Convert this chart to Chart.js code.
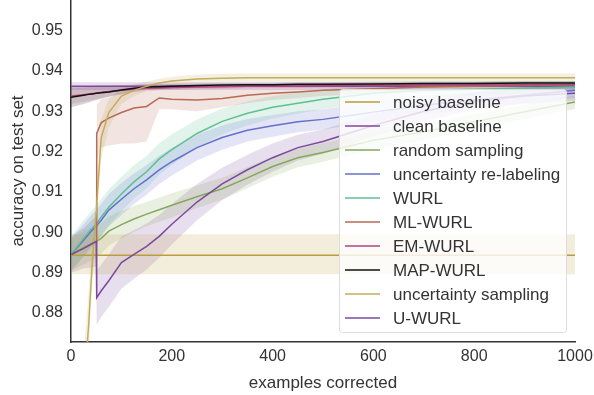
<!DOCTYPE html>
<html>
<head>
<meta charset="utf-8">
<script src="https://cdn.jsdelivr.net/npm/chart.js@4.4.1/dist/chart.umd.min.js"></script>
<style>
  body { margin: 0; background: #fff; }
</style>
</head>
<body>
<canvas id="chart" width="594" height="395"></canvas>
<script>
// x positions (examples corrected)
const xValues = [0, 25, 35, 42, 50, 51, 60, 75, 100, 125, 150, 175, 200, 250, 300, 350, 400, 450, 500, 600, 700, 800, 900, 1000];
const xTicks = [0, 200, 400, 600, 800, 1000];
const yTicks = [0.88, 0.89, 0.90, 0.91, 0.92, 0.93, 0.94, 0.95];

const labels = ['noisy baseline', 'clean baseline', 'random sampling', 'uncertainty re-labeling', 'WURL',
                'ML-WURL', 'EM-WURL', 'MAP-WURL', 'uncertainty sampling', 'U-WURL'];
const colors = ['#bb9d3e', '#84479f', '#86a85a', '#6470cc', '#5fbf94',
                '#b86a52', '#b0477a', '#111111', '#c2ad58', '#7b4a9e'];

const noisyBaseline = [0.8943, 0.8943, 0.8943, 0.8943, 0.8943, 0.8943, 0.8943, 0.8943, 0.8943, 0.8943, 0.8943, 0.8943, 0.8943, 0.8943, 0.8943, 0.8943, 0.8943, 0.8943, 0.8943, 0.8943, 0.8943, 0.8943, 0.8943, 0.8943];
const noisyLow      = [0.8896, 0.8896, 0.8896, 0.8896, 0.8896, 0.8896, 0.8896, 0.8896, 0.8896, 0.8896, 0.8896, 0.8896, 0.8896, 0.8896, 0.8896, 0.8896, 0.8896, 0.8896, 0.8896, 0.8896, 0.8896, 0.8896, 0.8896, 0.8896];
const noisyHigh     = [0.8995, 0.8995, 0.8995, 0.8995, 0.8995, 0.8995, 0.8995, 0.8995, 0.8995, 0.8995, 0.8995, 0.8995, 0.8995, 0.8995, 0.8995, 0.8995, 0.8995, 0.8995, 0.8995, 0.8995, 0.8995, 0.8995, 0.8995, 0.8995];

const cleanBaseline = [0.9362, 0.9362, 0.9362, 0.9362, 0.9362, 0.9362, 0.9362, 0.9362, 0.9362, 0.9362, 0.9362, 0.9362, 0.9362, 0.9362, 0.9362, 0.9362, 0.9362, 0.9362, 0.9362, 0.9362, 0.9362, 0.9362, 0.9362, 0.9362];
const cleanLow      = [0.9353, 0.9353, 0.9353, 0.9353, 0.9353, 0.9353, 0.9353, 0.9353, 0.9353, 0.9353, 0.9353, 0.9353, 0.9353, 0.9353, 0.9353, 0.9353, 0.9353, 0.9353, 0.9353, 0.9353, 0.9353, 0.9353, 0.9353, 0.9353];
const cleanHigh     = [0.9372, 0.9372, 0.9372, 0.9372, 0.9372, 0.9372, 0.9372, 0.9372, 0.9372, 0.9372, 0.9372, 0.9372, 0.9372, 0.9372, 0.9372, 0.9372, 0.9372, 0.9372, 0.9372, 0.9372, 0.9372, 0.9372, 0.9372, 0.9372];

const randomSampling = [0.8945, 0.8962, 0.8968, 0.8973, 0.8977, 0.8978, 0.8985, 0.9003, 0.9019, 0.9033, 0.9045, 0.9056, 0.9067, 0.9088, 0.9108, 0.9135, 0.9163, 0.9185, 0.9198, 0.9228, 0.9249, 0.9274, 0.9299, 0.9323];
const randomLow      = [0.8905, 0.8920, 0.8927, 0.8932, 0.8937, 0.8938, 0.8947, 0.8967, 0.8985, 0.9001, 0.9015, 0.9026, 0.9037, 0.9060, 0.9081, 0.9109, 0.9138, 0.9161, 0.9175, 0.9206, 0.9229, 0.9255, 0.9281, 0.9306];
const randomHigh     = [0.8985, 0.9004, 0.9009, 0.9014, 0.9017, 0.9018, 0.9023, 0.9039, 0.9053, 0.9065, 0.9075, 0.9086, 0.9097, 0.9116, 0.9135, 0.9161, 0.9188, 0.9209, 0.9221, 0.9250, 0.9269, 0.9293, 0.9317, 0.9340];

const relabel     = [0.8945, 0.8980, 0.8995, 0.9005, 0.9015, 0.9017, 0.9030, 0.9055, 0.9082, 0.9108, 0.9130, 0.9155, 0.9175, 0.9210, 0.9235, 0.9253, 0.9264, 0.9274, 0.9280, 0.9298, 0.9315, 0.9328, 0.9340, 0.9352];
const relabelLow  = [0.8905, 0.8940, 0.8955, 0.8965, 0.8975, 0.8977, 0.8990, 0.9015, 0.9042, 0.9070, 0.9093, 0.9120, 0.9141, 0.9178, 0.9205, 0.9225, 0.9237, 0.9248, 0.9255, 0.9275, 0.9293, 0.9307, 0.9320, 0.9333];
const relabelHigh = [0.8985, 0.9020, 0.9035, 0.9045, 0.9055, 0.9057, 0.9070, 0.9095, 0.9122, 0.9146, 0.9167, 0.9190, 0.9209, 0.9242, 0.9265, 0.9281, 0.9291, 0.9300, 0.9305, 0.9321, 0.9337, 0.9349, 0.9360, 0.9371];

const wurl     = [0.8945, 0.8985, 0.9000, 0.9010, 0.9020, 0.9022, 0.9038, 0.9062, 0.9095, 0.9125, 0.9150, 0.9182, 0.9205, 0.9245, 0.9275, 0.9295, 0.9310, 0.9320, 0.9330, 0.9345, 0.9352, 0.9355, 0.9358, 0.9360];
const wurlLow  = [0.8900, 0.8940, 0.8955, 0.8965, 0.8975, 0.8977, 0.8993, 0.9017, 0.9052, 0.9084, 0.9110, 0.9143, 0.9167, 0.9210, 0.9243, 0.9265, 0.9282, 0.9294, 0.9306, 0.9323, 0.9333, 0.9338, 0.9342, 0.9345];
const wurlHigh = [0.8990, 0.9030, 0.9045, 0.9055, 0.9065, 0.9067, 0.9083, 0.9107, 0.9138, 0.9166, 0.9190, 0.9221, 0.9243, 0.9280, 0.9307, 0.9325, 0.9338, 0.9346, 0.9354, 0.9367, 0.9371, 0.9372, 0.9374, 0.9375];

const mlWurl     = [0.8945, 0.8960, 0.8967, 0.8972, 0.8977, 0.9245, 0.9272, 0.9283, 0.9297, 0.9308, 0.9312, 0.9333, 0.9330, 0.9328, 0.9332, 0.9340, 0.9345, 0.9348, 0.9352, 0.9356, 0.9360, 0.9362, 0.9364, 0.9365];
const mlLow      = [null, null, null, null, null, 0.9180, 0.9210, 0.9215, 0.9220, 0.9220, 0.9225, 0.9305, 0.9305, 0.9300, 0.9310, 0.9320, 0.9328, 0.9333, 0.9338, 0.9344, 0.9349, 0.9352, 0.9354, 0.9356];
const mlHigh     = [null, null, null, null, null, 0.9315, 0.9330, 0.9335, 0.9345, 0.9350, 0.9350, 0.9358, 0.9358, 0.9358, 0.9360, 0.9362, 0.9363, 0.9364, 0.9366, 0.9368, 0.9370, 0.9371, 0.9372, 0.9372];

const emWurl = [0.9338, 0.9341, 0.9343, 0.9344, 0.9345, 0.9345, 0.9347, 0.9349, 0.9352, 0.9355, 0.9357, 0.9358, 0.9359, 0.9360, 0.9361, 0.9362, 0.9363, 0.9363, 0.9364, 0.9364, 0.9365, 0.9365, 0.9366, 0.9366];
const emLow  = [0.9318, 0.9323, 0.9326, 0.9328, 0.9330, 0.9330, 0.9333, 0.9337, 0.9342, 0.9347, 0.9350, 0.9352, 0.9353, 0.9355, 0.9356, 0.9357, 0.9358, 0.9358, 0.9359, 0.9359, 0.9360, 0.9360, 0.9361, 0.9361];
const emHigh = [0.9358, 0.9359, 0.9360, 0.9360, 0.9360, 0.9360, 0.9361, 0.9361, 0.9362, 0.9363, 0.9364, 0.9364, 0.9365, 0.9365, 0.9366, 0.9367, 0.9368, 0.9368, 0.9369, 0.9369, 0.9370, 0.9370, 0.9371, 0.9371];

const mapWurl = [0.9335, 0.9340, 0.9342, 0.9343, 0.9345, 0.9345, 0.9346, 0.9348, 0.9353, 0.9357, 0.9360, 0.9361, 0.9362, 0.9364, 0.9365, 0.9366, 0.9366, 0.9367, 0.9367, 0.9368, 0.9369, 0.9369, 0.9370, 0.9370];
const mapLow  = [0.9310, 0.9318, 0.9322, 0.9325, 0.9328, 0.9328, 0.9331, 0.9336, 0.9343, 0.9349, 0.9353, 0.9355, 0.9356, 0.9358, 0.9360, 0.9361, 0.9361, 0.9362, 0.9362, 0.9363, 0.9364, 0.9364, 0.9365, 0.9365];
const mapHigh = [0.9362, 0.9363, 0.9363, 0.9363, 0.9364, 0.9364, 0.9364, 0.9364, 0.9365, 0.9366, 0.9367, 0.9368, 0.9368, 0.9369, 0.9370, 0.9371, 0.9371, 0.9372, 0.9372, 0.9373, 0.9374, 0.9374, 0.9375, 0.9375];

const uncSampling = [0.8000, 0.8600, 0.8770, 0.8920, 0.9050, 0.9070, 0.9235, 0.9297, 0.9338, 0.9352, 0.9362, 0.9370, 0.9375, 0.9380, 0.9382, 0.9383, 0.9383, 0.9383, 0.9383, 0.9383, 0.9383, 0.9383, 0.9383, 0.9383];
const uncLow      = [0.7900, 0.8500, 0.8700, 0.8870, 0.9000, 0.9020, 0.9180, 0.9260, 0.9318, 0.9338, 0.9350, 0.9358, 0.9364, 0.9369, 0.9371, 0.9372, 0.9372, 0.9372, 0.9372, 0.9372, 0.9372, 0.9372, 0.9372, 0.9372];
const uncHigh     = [0.8100, 0.8700, 0.8850, 0.8980, 0.9100, 0.9120, 0.9280, 0.9330, 0.9356, 0.9366, 0.9374, 0.9381, 0.9386, 0.9391, 0.9393, 0.9394, 0.9394, 0.9394, 0.9394, 0.9394, 0.9394, 0.9394, 0.9394, 0.9394];

const uWurl = [0.8945, 0.8960, 0.8967, 0.8972, 0.8977, 0.8838, 0.8855, 0.8880, 0.8925, 0.8945, 0.8965, 0.8990, 0.9020, 0.9075, 0.9120, 0.9155, 0.9185, 0.9210, 0.9225, 0.9265, 0.9300, 0.9325, 0.9338, 0.9345];
const uLow  = [0.8900, 0.8910, 0.8912, 0.8913, 0.8915, 0.8770, 0.8790, 0.8815, 0.8860, 0.8885, 0.8908, 0.8937, 0.8970, 0.9030, 0.9080, 0.9118, 0.9150, 0.9178, 0.9195, 0.9238, 0.9276, 0.9303, 0.9318, 0.9326];
const uHigh = [0.8990, 0.9010, 0.9022, 0.9031, 0.9039, 0.8906, 0.8920, 0.8945, 0.8990, 0.9005, 0.9022, 0.9043, 0.9070, 0.9120, 0.9160, 0.9192, 0.9220, 0.9242, 0.9255, 0.9292, 0.9324, 0.9347, 0.9358, 0.9364];

const means = [noisyBaseline, cleanBaseline, randomSampling, relabel, wurl, mlWurl, emWurl, mapWurl, uncSampling, uWurl];
const lows  = [noisyLow, cleanLow, randomLow, relabelLow, wurlLow, mlLow, emLow, mapLow, uncLow, uLow];
const highs = [noisyHigh, cleanHigh, randomHigh, relabelHigh, wurlHigh, mlHigh, emHigh, mapHigh, uncHigh, uHigh];

const FONT = "'Liberation Sans', Arial, sans-serif";
const TEXT = '#333333';

function toPoints(arr) {
    return xValues.map((x, i) => ({ x: x, y: arr[i] }));
}

function withAlpha(hex, a) {
    const n = parseInt(hex.slice(1), 16);
    return `rgba(${(n >> 16) & 255},${(n >> 8) & 255},${n & 255},${a})`;
}

const datasets = [];
// shaded bands first, drawn under all lines
labels.forEach((name, i) => {
    datasets.push({
        label: '_band', data: toPoints(highs[i]),
        borderWidth: 0, pointRadius: 0, fill: false, order: 50
    });
    datasets.push({
        label: '_band', data: toPoints(lows[i]),
        borderWidth: 0, pointRadius: 0, order: 50,
        backgroundColor: withAlpha(colors[i], 0.18), fill: '-1'
    });
});
labels.forEach((name, i) => {
    datasets.push({
        label: name, data: toPoints(means[i]),
        borderColor: colors[i], borderWidth: 1.5,
        pointRadius: 0, fill: false, order: 20 - i
    });
});

// legend box drawn inside the plot, like matplotlib's
const boxLegend = {
    id: 'boxLegend',
    afterDatasetsDraw(chart) {
        const ctx = chart.ctx;
        const x = 339, y = 89, w = 227, h = 243;
        ctx.save();
        ctx.fillStyle = 'rgba(255,255,255,0.8)';
        ctx.strokeStyle = '#dddddd';
        ctx.lineWidth = 1;
        ctx.beginPath();
        ctx.roundRect(x + 0.5, y + 0.5, w, h, 3);
        ctx.fill();
        ctx.stroke();
        ctx.font = '17px ' + FONT;
        ctx.textBaseline = 'middle';
        labels.forEach((name, i) => {
            const ly = 102 + i * 24;
            ctx.strokeStyle = colors[i];
            ctx.lineWidth = 1.5;
            ctx.beginPath();
            ctx.moveTo(345, ly);
            ctx.lineTo(380, ly);
            ctx.stroke();
            ctx.fillStyle = TEXT;
            ctx.fillText(name, 393, ly + 1);
        });
        ctx.restore();
    }
};

new Chart(document.getElementById('chart'), {
    type: 'line',
    data: { datasets: datasets },
    plugins: [boxLegend],
    options: {
        responsive: false,
        animation: false,
        layout: { padding: { top: 0, left: 0, right: 19, bottom: 0 } },
        plugins: {
            legend: { display: false },
            tooltip: { enabled: false }
        },
        scales: {
            x: {
                type: 'linear', min: 0, max: 1000,
                grid: { display: false, drawTicks: false },
                border: { display: true, color: TEXT, width: 1.5 },
                afterBuildTicks: s => { s.ticks = xTicks.map(v => ({ value: v })); },
                ticks: { color: TEXT, padding: 5, maxRotation: 0, font: { family: FONT, size: 16 },
                         callback: v => String(v) },
                title: { display: true, text: 'examples corrected', color: TEXT,
                         font: { family: FONT, size: 17 }, padding: { top: 2, bottom: 1 } },
                afterFit: s => { s.height = 53; s.paddingLeft = 0; s.paddingRight = 0; }
            },
            y: {
                type: 'linear', min: 0.8728, max: 0.9576,
                grid: { display: false, drawTicks: false },
                border: { display: true, color: TEXT, width: 1.5 },
                afterBuildTicks: s => { s.ticks = yTicks.map(v => ({ value: v })); },
                ticks: { color: TEXT, padding: 8, font: { family: FONT, size: 16 },
                         callback: v => v.toFixed(2) },
                title: { display: true, text: 'accuracy on test set', color: TEXT,
                         font: { family: FONT, size: 17 }, padding: { top: 8, bottom: 2 } },
                afterFit: s => { s.width = 71; s.paddingTop = 0; s.paddingBottom = 0; }
            }
        }
    }
});
</script>
</body>
</html>
